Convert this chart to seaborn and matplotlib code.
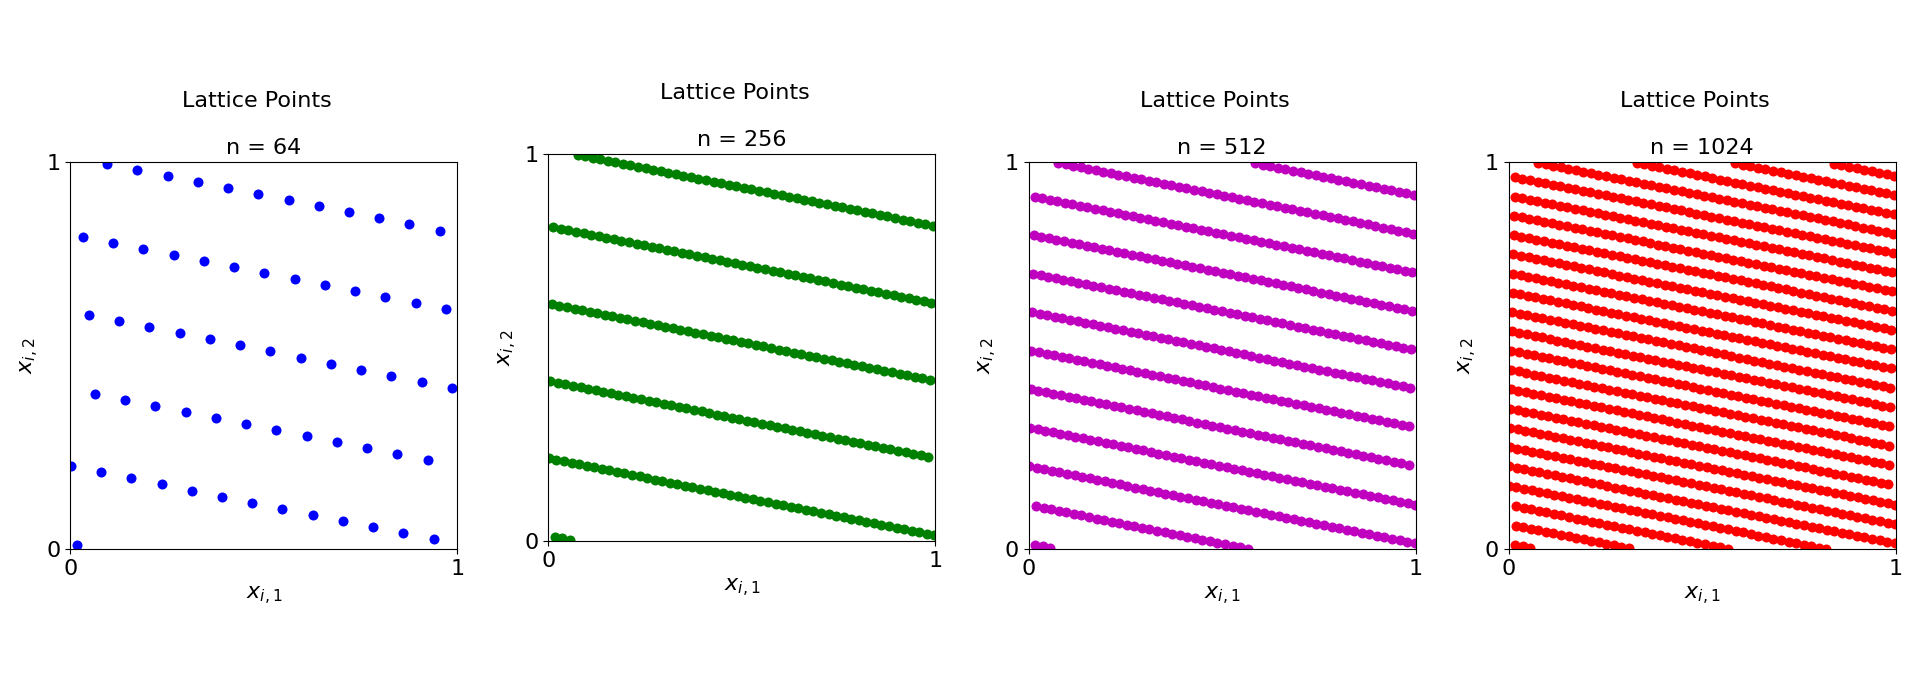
import numpy as np
import pandas as pd
import matplotlib
matplotlib.use("Agg")
import matplotlib.pyplot as plt
import seaborn as sns

# one panel per sample size
n_values = [64, 256, 512, 1024]
colors = ['b', 'g', 'm', 'r']

# rank-1 lattice: generating vector and random shift
gen_vec = [1, 51]
shift = [0.017, 0.0112]


def lattice_points(n):
    """
    Shifted rank-1 lattice with n points in the unit square.
    """
    i = np.arange(n)[:, None]
    pts = (i * np.array(gen_vec) / n + np.array(shift)) % 1
    return pd.DataFrame(pts, columns=['x1', 'x2'])


# axes boxes in pixels (left, top), all square with side 387
W, H = 1920, 673
side = 387
boxes = [(70.3, 162.3), (548.3, 154.3), (1028.7, 162.3), (1508.7, 162.3)]

fig = plt.figure(figsize=(W / 100, H / 100), dpi=100)

for n, c, (left, top) in zip(n_values, colors, boxes):
    ax = fig.add_axes([left / W, (H - top - side) / H, side / W, side / H])
    df = lattice_points(n)
    sns.scatterplot(data=df, x='x1', y='x2', color=c, s=52, linewidth=0, ax=ax)
    ax.set_xlim(0, 1)
    ax.set_ylim(0, 1)
    ax.set_xticks([0, 1])
    ax.set_yticks([0, 1])
    ax.tick_params(labelsize=16)
    ax.set_xlabel(r'$x_{i,1}$', fontsize=16)
    ax.set_ylabel(r'$x_{i,2}$', fontsize=16)
    ax.set_title(f'n = {n}', fontsize=16)
    ax.text(0.482, 1.1433, 'Lattice Points', fontsize=16,
            transform=ax.transAxes, ha='center', va='baseline')

fig.savefig('out.png', dpi=100)
